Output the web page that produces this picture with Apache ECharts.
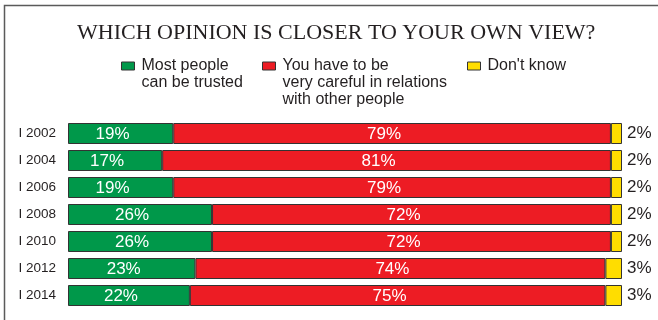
<!DOCTYPE html>
<html>
<head>
<meta charset="utf-8">
<title>Which opinion is closer to your own view?</title>
<script src="https://cdn.jsdelivr.net/npm/echarts@6/dist/echarts.min.js"></script>
<style>
  html, body { margin: 0; padding: 0; background: #ffffff; }
  #chart { width: 658px; height: 320px; }
</style>
</head>
<body>
<div id="chart"></div>
<script>
// Survey waves (January of each year)
const years = ['I 2002', 'I 2004', 'I 2006', 'I 2008', 'I 2010', 'I 2012', 'I 2014'];

// Shares of answers, in percent
const trusted = [19, 17, 19, 26, 26, 23, 22];
const careful = [79, 81, 79, 72, 72, 74, 75];
const dontKnow = [2, 2, 2, 2, 2, 3, 3];

const seriesNames = [
  'Most people\ncan be trusted',
  'You have to be\nvery careful in relations\nwith other people',
  "Don't know"
];

const GREEN = '#00984a';
const RED = '#ed1c24';
const YELLOW = '#ffdd00';
const INK = '#231f20';
const FONT = '"Liberation Sans", Arial, sans-serif';
const LINE_H = 17;

// One legend per answer, so each block sits where it belongs.
// Legend text is centred on the swatch, so blank lines are put above
// the label to bring its first line level with the swatch.
function legendFor(name, left) {
  const lines = name.split('\n').length;
  const pad = '\u00a0\n'.repeat(lines - 1);
  return {
    left: left,
    top: 62 - (LINE_H * (2 * lines - 1)) / 2 + 4,
    padding: 0,
    itemWidth: 13,
    itemHeight: 8,
    icon: 'rect',
    selectedMode: false,
    itemStyle: { borderColor: '#333', borderWidth: 1 },
    formatter: function (n) { return pad + n; },
    textStyle: {
      color: INK,
      fontFamily: FONT,
      fontSize: 16,
      lineHeight: LINE_H,
      padding: [0, 0, 0, 2]
    },
    data: [{ name: name }]
  };
}

const insideLabel = {
  show: true,
  position: 'inside',
  offset: [-8, 1],
  color: '#ffffff',
  fontFamily: FONT,
  fontSize: 17,
  formatter: '{c}%'
};

const chart = echarts.init(document.getElementById('chart'), null, { renderer: 'canvas' });

chart.setOption({
  animation: false,
  backgroundColor: '#ffffff',
  title: {
    text: 'WHICH OPINION IS CLOSER TO YOUR OWN VIEW?',
    left: 77,
    top: 22,
    padding: 0,
    textStyle: {
      color: INK,
      fontFamily: '"Liberation Serif", "Times New Roman", serif',
      fontWeight: 'normal',
      fontSize: 22
    }
  },
  legend: [
    legendFor(seriesNames[0], 121),
    legendFor(seriesNames[1], 262),
    legendFor(seriesNames[2], 467)
  ],
  grid: { left: 68, right: 36, top: 120, bottom: 11, containLabel: false },
  xAxis: {
    type: 'value',
    min: 0,
    max: 100,
    show: false
  },
  yAxis: {
    type: 'category',
    data: years,
    inverse: true,
    axisLine: { show: false },
    axisTick: { show: false },
    axisLabel: {
      margin: 12,
      color: INK,
      fontFamily: FONT,
      fontSize: 13.5
    }
  },
  graphic: [{
    type: 'polyline',
    silent: true,
    shape: { points: [[4.5, 320], [4.5, 5.5], [658, 5.5]] },
    style: { stroke: '#5a5a5a', lineWidth: 1.5, fill: null }
  }],
  series: [
    {
      name: seriesNames[0],
      type: 'bar',
      stack: 'total',
      barWidth: 21,
      data: trusted,
      itemStyle: { color: GREEN, borderColor: '#333', borderWidth: 1 },
      label: insideLabel
    },
    {
      name: seriesNames[1],
      type: 'bar',
      stack: 'total',
      barWidth: 21,
      data: careful,
      itemStyle: { color: RED, borderColor: '#333', borderWidth: 1 },
      label: insideLabel
    },
    {
      name: seriesNames[2],
      type: 'bar',
      stack: 'total',
      barWidth: 21,
      data: dontKnow,
      itemStyle: { color: YELLOW, borderColor: '#333', borderWidth: 1 },
      label: {
        show: true,
        position: 'right',
        distance: 5,
        color: INK,
        fontFamily: FONT,
        fontSize: 17,
        formatter: '{c}%'
      }
    }
  ]
});
</script>
</body>
</html>
